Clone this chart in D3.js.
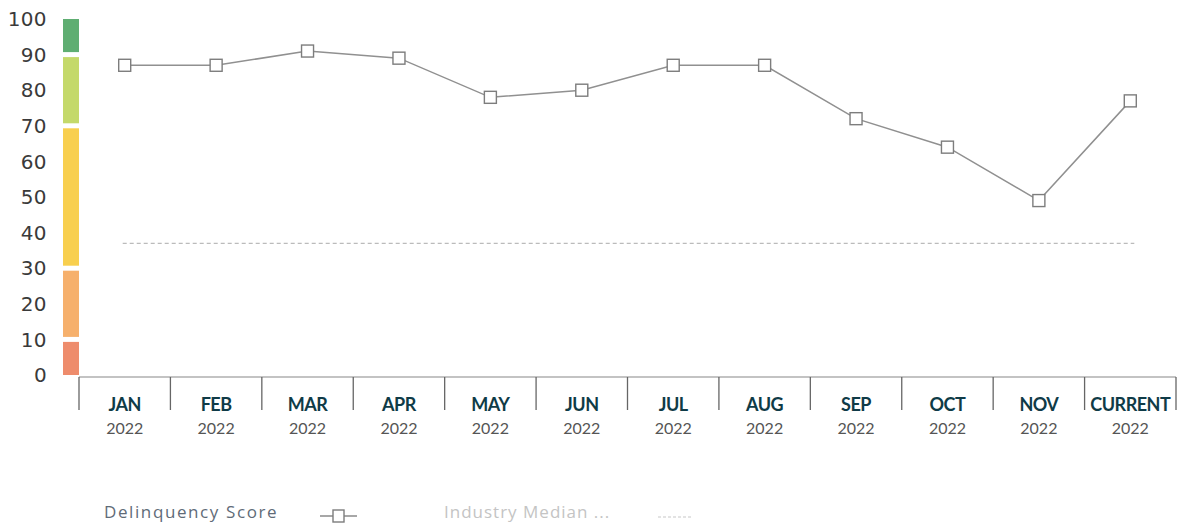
<!DOCTYPE html>
<html>
<head>
<meta charset="utf-8">
<script src="https://cdn.jsdelivr.net/npm/d3@7"></script>
<style>
  body { margin: 0; background: #fff; }
  svg { display: block; }
</style>
</head>
<body>
<script>
// data
var months = ["JAN", "FEB", "MAR", "APR", "MAY", "JUN", "JUL", "AUG", "SEP", "OCT", "NOV", "CURRENT"];
var years = ["2022", "2022", "2022", "2022", "2022", "2022", "2022", "2022", "2022", "2022", "2022", "2022"];
var scores = [87, 87, 91, 89, 78, 80, 87, 87, 72, 64, 49, 77];
var industryMedian = 37;
var yTicks = [0, 10, 20, 30, 40, 50, 60, 70, 80, 90, 100];
var bandLo = [0, 10, 30, 70, 90];
var bandHi = [10, 30, 70, 90, 100];
var bandColours = ["#ee8c6c", "#f6b06c", "#f8cf4e", "#c4d96a", "#5fae72"];

var w = 1180, h = 527;

var svg = d3.select('body')
            .append('svg')
            .attr('width', w)
            .attr('height', h);

var y = d3.scaleLinear()
          .domain([0, 100])
          .range([375, 19]);

var x = d3.scaleBand()
          .domain(months)
          .range([79, 1176]);

// colour bar on the left
svg.selectAll('rect.band')
   .data(bandLo)
   .enter()
   .append('rect')
   .attr('class', 'band')
   .attr('x', 63)
   .attr('width', 16)
   .attr('y', function(d, i){ return y(bandHi[i]) + (bandHi[i] == 100 ? 0 : 2.5); })
   .attr('height', function(d, i){
     return y(d) - y(bandHi[i]) - (bandHi[i] == 100 ? 2.5 : (d == 0 ? 2.5 : 5));
   })
   .attr('fill', function(d, i){ return bandColours[i]; });

// y tick labels
svg.selectAll('text.ytick')
   .data(yTicks)
   .enter()
   .append('text')
   .attr('class', 'ytick')
   .attr('x', 47)
   .attr('y', function(d){ return y(d); })
   .attr('dy', '0.36em')
   .attr('text-anchor', 'end')
   .style('font-family', 'DejaVu Sans, sans-serif')
   .style('font-size', '20px')
   .style('letter-spacing', '0.4px')
   .style('fill', '#3a3a3a')
   .text(function(d){ return d; });

// x axis boxes
svg.append('line')
   .attr('x1', x.range()[0]).attr('x2', x.range()[1])
   .attr('y1', 377).attr('y2', 377)
   .attr('stroke', '#888')
   .attr('stroke-width', 1.2);

var seps = months.map(function(m){ return x(m); }).concat([x.range()[1]]);
svg.selectAll('line.sep')
   .data(seps)
   .enter()
   .append('line')
   .attr('class', 'sep')
   .attr('x1', function(d){ return d; })
   .attr('x2', function(d){ return d; })
   .attr('y1', 377)
   .attr('y2', 410)
   .attr('stroke', '#666')
   .attr('stroke-width', 1.3);

svg.selectAll('text.month')
   .data(months)
   .enter()
   .append('text')
   .attr('class', 'month')
   .attr('x', function(d){ return x(d) + x.bandwidth() / 2; })
   .attr('y', 411)
   .attr('text-anchor', 'middle')
   .style('font-family', 'Lato, sans-serif')
   .style('font-weight', 'bold')
   .style('font-size', '18px')
   .style('letter-spacing', '-0.5px')
   .style('fill', '#0f3b47')
   .text(function(d){ return d; });

svg.selectAll('text.year')
   .data(years)
   .enter()
   .append('text')
   .attr('class', 'year')
   .attr('x', function(d, i){ return x(months[i]) + x.bandwidth() / 2; })
   .attr('y', 434)
   .attr('text-anchor', 'middle')
   .style('font-family', 'Lato, sans-serif')
   .style('font-size', '16px')
   .style('fill', '#555')
   .text(function(d){ return d; });

// industry median (dashed)
svg.append('line')
   .attr('x1', x(months[0]) + x.bandwidth() / 2 - 2)
   .attr('x2', x(months[months.length - 1]) + x.bandwidth() / 2 + 4)
   .attr('y1', y(industryMedian))
   .attr('y2', y(industryMedian))
   .attr('stroke', '#bbb')
   .attr('stroke-width', 1.3)
   .attr('stroke-dasharray', '4,3');

// score line
var line = d3.line()
             .x(function(d, i){ return x(months[i]) + x.bandwidth() / 2; })
             .y(function(d){ return y(d); });

svg.append('path')
   .datum(scores)
   .attr('d', line)
   .attr('fill', 'none')
   .attr('stroke', '#909090')
   .attr('stroke-width', 1.5);

var s = 12;
svg.selectAll('rect.marker')
   .data(scores)
   .enter()
   .append('rect')
   .attr('class', 'marker')
   .attr('x', function(d, i){ return x(months[i]) + x.bandwidth() / 2 - s / 2; })
   .attr('y', function(d){ return y(d) - s / 2; })
   .attr('width', s)
   .attr('height', s)
   .attr('fill', '#fff')
   .attr('stroke', '#7d7d7d')
   .attr('stroke-width', 1.4);

// legend
svg.append('text')
   .attr('x', 104)
   .attr('y', 518)
   .style('font-family', 'Open Sans, sans-serif')
   .style('font-size', '17px')
   .style('letter-spacing', '1.6px')
   .style('fill', '#5f6b78')
   .text('Delinquency Score');

svg.append('line')
   .attr('x1', 320).attr('x2', 357)
   .attr('y1', 516).attr('y2', 516)
   .attr('stroke', '#8a8a8a')
   .attr('stroke-width', 1.3);
svg.append('rect')
   .attr('x', 333).attr('y', 510)
   .attr('width', 11).attr('height', 12)
   .attr('fill', '#fff')
   .attr('stroke', '#7d7d7d')
   .attr('stroke-width', 1.4);

svg.append('text')
   .attr('x', 444)
   .attr('y', 518)
   .style('font-family', 'Open Sans, sans-serif')
   .style('font-size', '17px')
   .style('letter-spacing', '1px')
   .style('fill', '#c4c4c4')
   .text('Industry Median ...');

svg.append('line')
   .attr('x1', 658).attr('x2', 692)
   .attr('y1', 517).attr('y2', 517)
   .attr('stroke', '#c8c8c8')
   .attr('stroke-width', 1.2)
   .attr('stroke-dasharray', '3,2');
</script>
</body>
</html>
